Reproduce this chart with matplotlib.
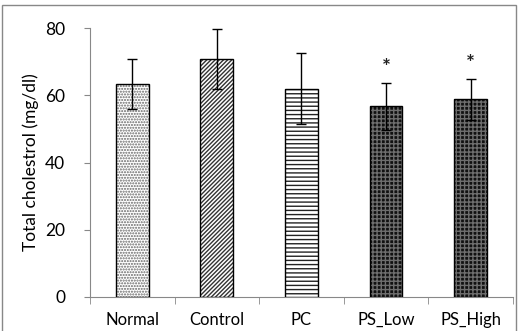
import matplotlib.pyplot as plt
from matplotlib.patches import Rectangle
import numpy as np

plt.rcParams['font.family'] = ['Lato', 'DejaVu Sans']

# data
groups = ["Normal", "Control", "PC", "PS_Low", "PS_High"]
means = [63.4, 70.8, 62.0, 56.7, 58.8]
errors = [7.5, 8.8, 10.5, 7.0, 6.0]
signif = ["", "", "", "*", "*"]

# styles per bar: (face, hatch colour, hatch)
styles = [
    ("white", "#666666", "......"),
    ("white", "#333333", "////////"),
    ("white", "#222222", "----"),
    ("#111111", "#6e6e6e", "++++"),
    ("#111111", "#6e6e6e", "++++"),
]

fig = plt.figure(figsize=(5.18, 3.31), dpi=100)
ax = fig.add_axes([0.174, 0.103, 0.816, 0.812])

x = np.arange(len(groups))
w = 0.39
for i in range(len(groups)):
    face, hcol, hatch = styles[i]
    # fill + hatch first (hatch takes the edge colour), then a black outline
    ax.bar(x[i], means[i], width=w, color=face, edgecolor=hcol,
           hatch=hatch, linewidth=0, zorder=2)
    ax.bar(x[i], means[i], width=w, fill=False, edgecolor="black",
           linewidth=1.0, zorder=3)

ax.errorbar(x, means, yerr=errors, fmt="none", ecolor="black",
            elinewidth=1.0, capsize=3.5, capthick=1.0, zorder=4)

for i, s in enumerate(signif):
    if s:
        ax.text(x[i], means[i] + errors[i] + 1.5, s, ha="center",
                va="bottom", fontsize=15, fontweight="bold", color="#222222")

ax.set_xlim(-0.5, len(groups) - 0.5)
ax.set_ylim(0, 80)
ax.set_yticks([0, 20, 40, 60, 80])
ax.set_xticks(x)
ax.set_xticklabels(groups, fontsize=12)
ax.set_xticks(np.arange(len(groups) + 1) - 0.5, minor=True)
ax.tick_params(axis="x", which="major", length=0, pad=11)
ax.tick_params(axis="x", which="minor", length=5, color="#888888")
ax.tick_params(axis="y", length=4, color="#888888", labelsize=12.5, pad=14)
ax.set_ylabel("Total cholestrol (mg/dl)", fontsize=12.5, labelpad=4)

for side in ["top", "right"]:
    ax.spines[side].set_visible(False)
for side in ["left", "bottom"]:
    ax.spines[side].set_color("#888888")
    ax.spines[side].set_linewidth(0.8)

# outer frame of the picture
fig.patches.append(Rectangle((0.004, -0.01), 0.992, 0.995, transform=fig.transFigure,
                             fill=False, edgecolor="#888888", linewidth=1.0))

fig.savefig("out.png", dpi=100)
